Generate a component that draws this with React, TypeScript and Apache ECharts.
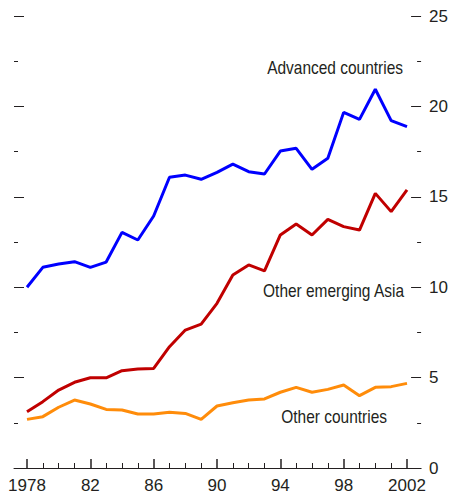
import React, { useEffect, useRef } from "react";
import * as echarts from "echarts";

const years = [1978,1979,1980,1981,1982,1983,1984,1985,1986,1987,1988,1989,1990,1991,1992,1993,1994,1995,1996,1997,1998,1999,2000,2001,2002];
const advanced = [10.0,11.1,11.28,11.41,11.1,11.39,13.03,12.61,13.94,16.08,16.2,15.97,16.35,16.81,16.39,16.26,17.53,17.68,16.52,17.13,19.67,19.28,20.95,19.21,18.88];
const emergingAsia = [3.11,3.67,4.31,4.74,4.99,4.99,5.38,5.48,5.51,6.71,7.63,7.96,9.11,10.67,11.23,10.9,12.89,13.5,12.89,13.75,13.35,13.16,15.19,14.18,15.38];
const otherCountries = [2.69,2.84,3.36,3.76,3.54,3.24,3.21,2.99,2.99,3.08,3.02,2.69,3.43,3.61,3.76,3.82,4.19,4.46,4.19,4.35,4.59,4.0,4.46,4.5,4.68];
const yTicks = [0, 5, 10, 15, 20, 25];
const seriesNames = ["Advanced countries", "Other emerging Asia", "Other countries"];

const FONT = "'Liberation Sans', Arial, sans-serif";
const INK = "#231f20";

export default function App() {
  const ref = useRef<HTMLDivElement>(null);
  useEffect(() => {
    document.body.style.margin = "0";
    if (!ref.current) return;
    const chart = echarts.init(ref.current, null, { renderer: "svg" });
    const toPairs = (arr: number[]) => arr.map((v, i) => [years[i], v]);
    const label = (text: string, x: number, y: number) => ({
      type: "text", x, y, scaleX: 0.86,
      style: { text, x: 0, y: 0, align: "right", verticalAlign: "middle", fill: INK, font: `18px ${FONT}` },
    });
    chart.setOption({
      animation: false,
      grid: [
        { left: 14, right: 29, top: 16, bottom: 34 },
        { left: 27, right: 44, top: 16, bottom: 34 },
      ],
      xAxis: [
        {
          type: "value", gridIndex: 0, min: 0, max: 1,
          axisLine: { show: true, lineStyle: { color: INK, width: 1 } },
          axisTick: { show: false }, axisLabel: { show: false }, splitLine: { show: false },
        },
        {
          type: "value", gridIndex: 1, min: years[0], max: years[years.length - 1], interval: 4,
          axisLine: { show: false },
          axisTick: { show: true, inside: true, length: 9, lineStyle: { color: INK, width: 1.5 } },
          minorTick: { show: true, splitNumber: 4, length: 5, lineStyle: { color: INK, width: 1 } },
          axisLabel: {
            show: true, margin: 9, color: INK, fontFamily: FONT, fontSize: 17,
            formatter: (v: number) => (v === years[0] || v === years[years.length - 1] ? String(v) : String(v).slice(2)),
          },
          splitLine: { show: false },
        },
      ],
      yAxis: [
        {
          type: "value", gridIndex: 0, position: "left", min: yTicks[0], max: yTicks[yTicks.length - 1], interval: 5,
          axisLine: { show: false },
          axisTick: { show: true, inside: true, length: 10, lineStyle: { color: INK, width: 1 } },
          minorTick: { show: true, splitNumber: 2, length: 4, lineStyle: { color: INK, width: 1 } },
          axisLabel: { show: false }, splitLine: { show: false },
        },
        {
          type: "value", gridIndex: 0, position: "right", min: yTicks[0], max: yTicks[yTicks.length - 1], interval: 5,
          axisLine: { show: false },
          axisTick: { show: true, inside: true, length: 10, lineStyle: { color: INK, width: 1 } },
          minorTick: { show: true, splitNumber: 2, length: 4, lineStyle: { color: INK, width: 1 } },
          axisLabel: { show: true, margin: 8, color: INK, fontFamily: FONT, fontSize: 17 },
          splitLine: { show: false },
        },
        {
          type: "value", gridIndex: 1, min: yTicks[0], max: yTicks[yTicks.length - 1], show: false,
        },
      ],
      series: [
        { name: seriesNames[0], type: "line", xAxisIndex: 1, yAxisIndex: 2, data: toPairs(advanced), showSymbol: false, lineStyle: { color: "#0000ff", width: 3 }, itemStyle: { color: "#0000ff" } },
        { name: seriesNames[1], type: "line", xAxisIndex: 1, yAxisIndex: 2, data: toPairs(emergingAsia), showSymbol: false, lineStyle: { color: "#c00000", width: 3 }, itemStyle: { color: "#c00000" } },
        { name: seriesNames[2], type: "line", xAxisIndex: 1, yAxisIndex: 2, data: toPairs(otherCountries), showSymbol: false, lineStyle: { color: "#ff8c0a", width: 3 }, itemStyle: { color: "#ff8c0a" } },
      ],
      graphic: [
        label(seriesNames[0], 403, 68),
        label(seriesNames[1], 404, 291),
        label(seriesNames[2], 387, 417),
      ],
    });
    return () => chart.dispose();
  }, []);
  return <div ref={ref} style={{ width: 451, height: 502 }} />;
}
